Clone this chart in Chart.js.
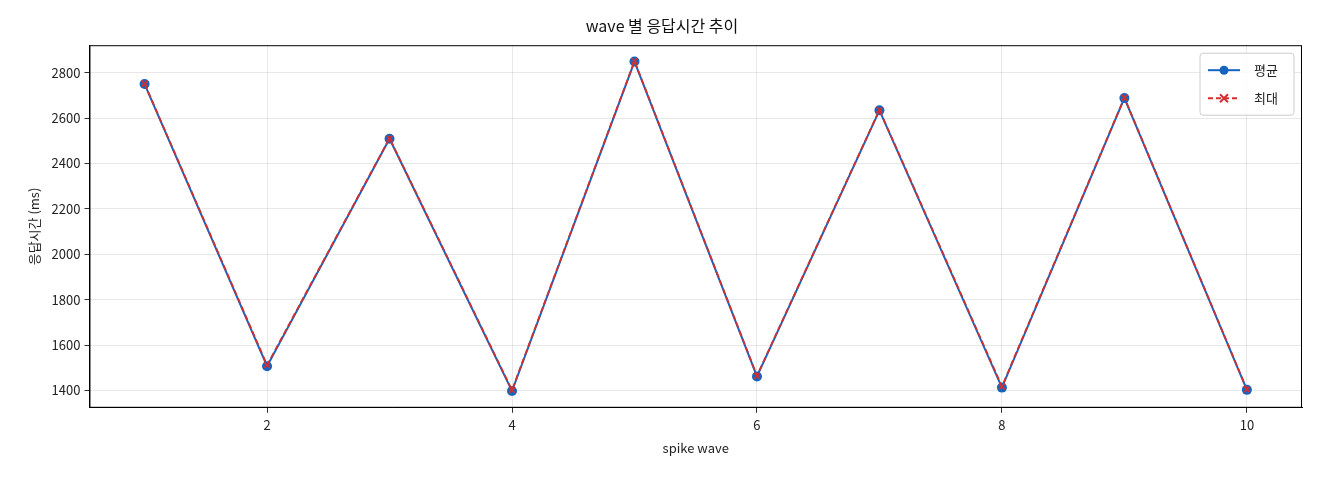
<!DOCTYPE html>
<html><head><meta charset="utf-8">
<script src="https://cdn.jsdelivr.net/npm/chart.js@4/dist/chart.umd.min.js"></script>
<style>body{margin:0;background:#fff}#w{width:1320px;height:480px}</style></head>
<body><div id="w"><canvas id="c" width="1320" height="480"></canvas></div>
<script>
const waves=[1,2,3,4,5,6,7,8,9,10];
const avgVals=[2750,1507,2509,1398,2849,1462,2634,1413,2688,1403];
const maxVals=[2752,1512,2511,1402,2851,1465,2636,1418,2690,1405];
const yTicks=[1400,1600,1800,2000,2200,2400,2600,2800];
const xTicks=[2,4,6,8,10];
const F='"Noto Sans CJK KR","DejaVu Sans",sans-serif';
const BLUE='#1565c0',RED='#d32f2f';
const legendPlugin={id:'lg',afterDraw(ch){
 const c=ch.ctx,a=ch.chartArea;
 c.save();c.strokeStyle='#000';c.lineWidth=1;c.strokeRect(a.left+0.5,a.top+0.5,a.right-a.left-1,a.bottom-a.top-1);
 const x0=a.right-102,y0=a.top+8,w=94,h=62;
 c.fillStyle='rgba(255,255,255,0.8)';c.strokeStyle='#ccc';
 c.beginPath();c.roundRect(x0,y0,w,h,3);c.fill();c.stroke();
 const items=[['평균',BLUE,[],'circle'],['최대',RED,[5,3],'x']];
 items.forEach((it,i)=>{const yy=y0+17+i*28;c.strokeStyle=it[1];c.lineWidth=2;c.setLineDash(it[2]);
  c.beginPath();c.moveTo(x0+8,yy);c.lineTo(x0+40,yy);c.stroke();c.setLineDash([]);
  if(it[3]==='circle'){c.fillStyle=it[1];c.beginPath();c.arc(x0+24,yy,4.5,0,7);c.fill();}
  else{c.beginPath();c.moveTo(x0+20,yy-4);c.lineTo(x0+28,yy+4);c.moveTo(x0+28,yy-4);c.lineTo(x0+20,yy+4);c.stroke();}
  c.fillStyle='#222';c.font='13px '+F;c.textBaseline='middle';c.fillText(it[0],x0+54,yy);});
 c.restore();}};
new Chart(document.getElementById('c'),{type:'line',
 data:{datasets:[
  {label:'평균',order:2,data:waves.map((x,i)=>({x,y:avgVals[i]})),borderColor:BLUE,backgroundColor:BLUE,borderWidth:2,pointRadius:5,pointStyle:'circle',pointBorderWidth:0},
  {label:'최대',order:1,data:waves.map((x,i)=>({x,y:maxVals[i]})),borderColor:RED,backgroundColor:RED,borderWidth:1.8,borderDash:[6,3],pointRadius:4,pointStyle:'crossRot',pointBorderWidth:1.8}
 ]},
 options:{responsive:false,animation:false,
  layout:{padding:{left:22,right:18,top:0,bottom:20}},
  plugins:{legend:{display:false},tooltip:{enabled:false},
   title:{display:true,text:'wave 별 응답시간 추이',color:'#111',font:{family:F,size:16,weight:'normal'},padding:{top:16,bottom:10}}},
  scales:{
   x:{type:'linear',min:0.55,max:10.45,afterBuildTicks:s=>{s.ticks=xTicks.map(v=>({value:v}))},
    grid:{color:'rgba(0,0,0,0.09)',drawTicks:true,tickLength:5,tickColor:'#333'},border:{color:'#000',width:1},
    ticks:{color:'#222',font:{family:F,size:13},padding:4,maxRotation:0,callback:v=>String(v)},
    title:{display:true,text:'spike wave',color:'#222',font:{family:F,size:13},padding:{top:4}}},
   y:{min:1324,max:2921,afterBuildTicks:s=>{s.ticks=yTicks.map(v=>({value:v}))},
    grid:{color:'rgba(0,0,0,0.09)',tickLength:5,tickColor:'#333'},border:{color:'#000',width:1},
    ticks:{color:'#222',font:{family:F,size:13},padding:4,callback:v=>String(v)},
    title:{display:true,text:'응답시간 (ms)',color:'#222',font:{family:F,size:13},padding:{bottom:6}}}
  }},plugins:[legendPlugin]});
</script></body></html>
